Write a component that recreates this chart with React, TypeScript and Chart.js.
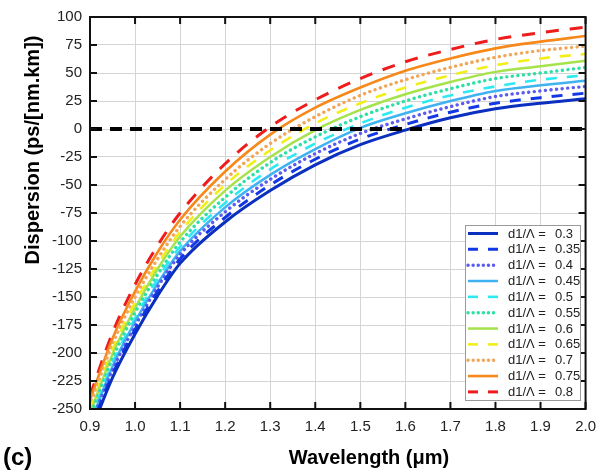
import React, { useEffect, useRef } from "react";
import { Chart, registerables } from "chart.js";

Chart.register(...registerables);

// ---------- data ----------
const WAVELENGTHS = [0.9, 0.95, 1.0, 1.05, 1.1, 1.2, 1.3, 1.4, 1.5, 1.6, 1.7, 1.8, 1.9, 2.0];
const RATIO_LABELS = ["0.3", "0.35", "0.4", "0.45", "0.5", "0.55", "0.6", "0.65", "0.7", "0.75", "0.8"];

const D_030 = [-272, -222, -183, -149, -120, -83, -55, -32, -14, -1, 10, 18, 23, 27];
const D_035 = [-269, -219, -179, -145, -116, -79, -50, -27, -9, 4, 15, 23, 28, 32];
const D_040 = [-266, -215, -176, -141, -112, -74, -45, -22, -4, 9, 20, 29, 34, 38];
const D_045 = [-264, -212, -172, -138, -109, -70, -41, -18, 1, 14, 25, 34, 39, 43];
const D_050 = [-261, -209, -169, -134, -105, -66, -36, -13, 5, 19, 30, 38, 44, 48];
const D_055 = [-257, -205, -164, -130, -101, -61, -30, -7, 11, 25, 36, 45, 50, 55];
const D_060 = [-254, -201, -160, -125, -96, -55, -25, -1, 17, 31, 42, 51, 56, 61];
const D_065 = [-251, -197, -155, -121, -92, -50, -19, 5, 23, 37, 48, 57, 63, 67];
const D_070 = [-247, -192, -150, -116, -87, -45, -13, 11, 30, 44, 55, 64, 70, 74];
const D_075 = [-242, -187, -145, -110, -81, -38, -5, 19, 37, 52, 63, 72, 78, 83];
const D_080 = [-238, -182, -139, -104, -75, -31, 2, 26, 45, 60, 71, 80, 86, 91];

const SERIES_VALUES = [D_030, D_035, D_040, D_045, D_050, D_055, D_060, D_065, D_070, D_075, D_080];

const ZERO_X = [0.9, 2.0];
const ZERO_Y = [0, 0];

const X_TICKS = [0.9, 1.0, 1.1, 1.2, 1.3, 1.4, 1.5, 1.6, 1.7, 1.8, 1.9, 2.0];
const Y_TICKS = [-250, -225, -200, -175, -150, -125, -100, -75, -50, -25, 0, 25, 50, 75, 100];

const X_TITLE = "Wavelength (μm)";
const Y_TITLE = "Dispersion (ps/[nm.km])";
const PANEL_LABEL = "(c)";
const LEGEND_PREFIX = "d1/Λ =";

// ---------- styles ----------
const FONT = "Arial, 'Liberation Sans', sans-serif";
const DOT = [0.1, 5.5];
const DASH = [11, 10];
const SERIES_STYLES = [
  { color: "#0b2fbf", dash: [], width: 3 },
  { color: "#1238e6", dash: DASH, width: 3 },
  { color: "#5b5df0", dash: DOT, width: 3.4 },
  { color: "#3fb2f2", dash: [], width: 2.5 },
  { color: "#2ee9f2", dash: DASH, width: 2.6 },
  { color: "#2fe0a6", dash: DOT, width: 3.4 },
  { color: "#a6e24c", dash: [], width: 2.5 },
  { color: "#f2ee1a", dash: DASH, width: 2.6 },
  { color: "#f2a65a", dash: DOT, width: 3.4 },
  { color: "#f7881a", dash: [], width: 2.6 },
  { color: "#ee1c1c", dash: [13, 11], width: 3 },
];

const decorPlugin = {
  id: "decor",
  afterDatasetsDraw(chart: any) {
    const { ctx, chartArea: a, scales } = chart;
    const xs = scales.x;
    const ys = scales.y;
    ctx.save();
    ctx.strokeStyle = "#111";
    ctx.lineWidth = 2;
    ctx.setLineDash([]);
    ctx.strokeRect(a.left, a.top, a.right - a.left, a.bottom - a.top);
    ctx.beginPath();
    const tl = 7;
    X_TICKS.forEach((v) => {
      const px = xs.getPixelForValue(v);
      ctx.moveTo(px, a.bottom);
      ctx.lineTo(px, a.bottom - tl);
      ctx.moveTo(px, a.top);
      ctx.lineTo(px, a.top + tl);
    });
    Y_TICKS.forEach((v) => {
      const py = ys.getPixelForValue(v);
      ctx.moveTo(a.left, py);
      ctx.lineTo(a.left + tl, py);
      ctx.moveTo(a.right, py);
      ctx.lineTo(a.right - tl, py);
    });
    ctx.stroke();
    ctx.restore();
  },
  afterDraw(chart: any) {
    const { ctx } = chart;
    ctx.save();
    // legend box
    const bx = 465, by = 225, bw = 115, bh = 175;
    ctx.fillStyle = "#ffffff";
    ctx.fillRect(bx, by, bw, bh);
    ctx.strokeStyle = "#9a9a9a";
    ctx.lineWidth = 1;
    ctx.setLineDash([]);
    ctx.strokeRect(bx + 0.5, by + 0.5, bw, bh);
    RATIO_LABELS.forEach((lab, i) => {
      const st = SERIES_STYLES[i];
      const cy = 233.5 + i * 15.84;
      ctx.save();
      ctx.strokeStyle = st.color;
      ctx.lineWidth = st.width;
      ctx.lineCap = st.dash === DOT ? "round" : "butt";
      ctx.setLineDash(st.dash === DOT ? [0.1, 5] : st.dash.length ? [10, 10] : []);
      ctx.beginPath();
      ctx.moveTo(468, cy);
      ctx.lineTo(498, cy);
      ctx.stroke();
      ctx.restore();
      ctx.fillStyle = "#222";
      ctx.font = `13px ${FONT}`;
      ctx.textBaseline = "middle";
      ctx.textAlign = "left";
      ctx.fillText(LEGEND_PREFIX, 508, cy + 0.5);
      ctx.fillText(lab, 555, cy + 0.5);
    });
    // titles
    ctx.fillStyle = "#000";
    ctx.textBaseline = "alphabetic";
    ctx.font = `bold 20px ${FONT}`;
    ctx.textAlign = "center";
    ctx.fillText(X_TITLE, 369, 464);
    ctx.textAlign = "left";
    ctx.font = `bold 24px ${FONT}`;
    ctx.fillText(PANEL_LABEL, 3, 465);
    ctx.save();
    ctx.translate(39, 150);
    ctx.rotate(-Math.PI / 2);
    ctx.textAlign = "center";
    ctx.font = `bold 20px ${FONT}`;
    ctx.fillText(Y_TITLE, 0, 0);
    ctx.restore();
    ctx.restore();
  },
};

export default function App() {
  const ref = useRef<HTMLCanvasElement | null>(null);
  useEffect(() => {
    if (!ref.current) return;
    const datasets: any[] = [
      {
        label: "zero",
        data: ZERO_X.map((x, i) => ({ x, y: ZERO_Y[i] })),
        borderColor: "#000",
        borderWidth: 4,
        borderDash: [12, 8],
        pointRadius: 0,
        order: -1,
      },
      ...SERIES_VALUES.map((vals, i) => ({
        label: `${LEGEND_PREFIX} ${RATIO_LABELS[i]}`,
        data: WAVELENGTHS.map((x, j) => ({ x, y: vals[j] })),
        borderColor: SERIES_STYLES[i].color,
        borderWidth: SERIES_STYLES[i].width,
        borderDash: SERIES_STYLES[i].dash,
        borderCapStyle: SERIES_STYLES[i].dash === DOT ? "round" : "butt",
        cubicInterpolationMode: "monotone",
        pointRadius: 0,
        fill: false,
      })),
    ];
    const chart = new Chart(ref.current, {
      type: "line",
      data: { datasets },
      options: {
        animation: false,
        responsive: false,
        devicePixelRatio: 1,
        layout: { padding: { top: 16, right: 19, left: 0, bottom: 0 } },
        plugins: { legend: { display: false }, tooltip: { enabled: false } },
        scales: {
          x: {
            type: "linear",
            min: 0.9,
            max: 2.0,
            afterBuildTicks: (s: any) => {
              s.ticks = X_TICKS.map((v) => ({ value: v }));
            },
            afterFit: (s: any) => {
              s.height = 61;
            },
            ticks: {
              callback: (v: any) => Number(v).toFixed(1),
              font: { family: FONT, size: 15 },
              color: "#222",
              padding: 9,
              maxRotation: 0,
              autoSkip: false,
            },
            grid: { color: "#d4d4d4", lineWidth: 1, drawTicks: false },
            border: { display: false },
          },
          y: {
            type: "linear",
            min: -250,
            max: 100,
            afterBuildTicks: (s: any) => {
              s.ticks = Y_TICKS.map((v) => ({ value: v }));
            },
            afterFit: (s: any) => {
              s.width = 90;
            },
            ticks: {
              font: { family: FONT, size: 15 },
              color: "#222",
              padding: 8,
              autoSkip: false,
            },
            grid: { color: "#d4d4d4", lineWidth: 1, drawTicks: false },
            border: { display: false },
          },
        },
      },
      plugins: [decorPlugin],
    });
    return () => chart.destroy();
  }, []);
  return (
    <div style={{ position: "absolute", left: 0, top: 0, width: 605, height: 470, background: "#fff" }}>
      <canvas ref={ref} width={605} height={470} />
    </div>
  );
}
